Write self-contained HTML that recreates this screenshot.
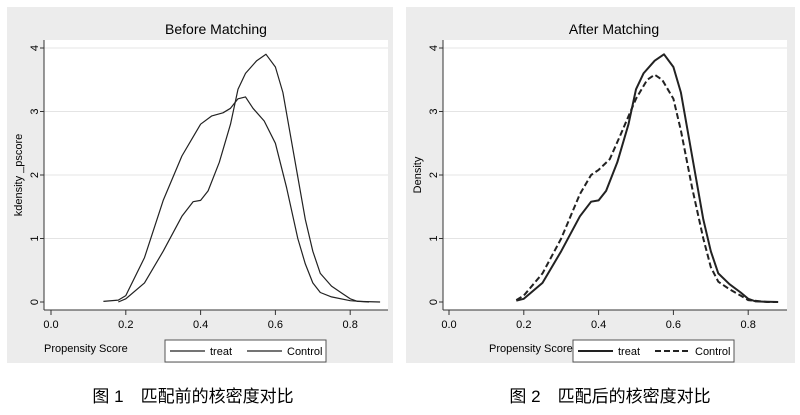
<!DOCTYPE html>
<html><head><meta charset="utf-8"><style>
body{margin:0;background:#fff;width:800px;height:410px;overflow:hidden}
svg text{font-family:"Liberation Sans","Noto Sans CJK SC",sans-serif}
</style></head><body>
<svg id="s" width="800" height="410" xmlns="http://www.w3.org/2000/svg">
<rect x="7" y="7" width="386" height="356" fill="#ececec"/>
<rect x="406" y="7" width="389" height="356" fill="#ececec"/>
<g id="L"></g>
<g id="R"></g>
<text x="193" y="402" text-anchor="middle" font-size="17">图 1　匹配前的核密度对比</text>
<text x="610" y="402" text-anchor="middle" font-size="17">图 2　匹配后的核密度对比</text>
</svg>
<script>
const xTicks=[0.0,0.2,0.4,0.6,0.8];
const xTickLabels=["0.0","0.2","0.4","0.6","0.8"];
const yTicks=[0,1,2,3,4];
const leftTreatX=[0.18,0.2,0.25,0.3,0.35,0.38,0.4,0.42,0.45,0.48,0.5,0.52,0.55,0.575,0.6,0.62,0.65,0.68,0.7,0.72,0.75,0.78,0.8,0.82,0.88];
const leftTreatY=[0,0.05,0.3,0.8,1.35,1.58,1.6,1.75,2.2,2.8,3.35,3.6,3.8,3.9,3.7,3.3,2.3,1.3,0.8,0.45,0.25,0.13,0.05,0.01,0];
const leftCtrlX=[0.14,0.18,0.2,0.25,0.3,0.35,0.38,0.4,0.43,0.46,0.48,0.5,0.52,0.54,0.57,0.6,0.63,0.66,0.68,0.7,0.72,0.75,0.8,0.85];
const leftCtrlY=[0.01,0.03,0.1,0.7,1.6,2.3,2.6,2.8,2.93,2.98,3.05,3.2,3.23,3.05,2.85,2.5,1.8,1.0,0.6,0.3,0.15,0.08,0.02,0];
const rightTreatX=[0.18,0.2,0.25,0.3,0.35,0.38,0.4,0.42,0.45,0.48,0.5,0.52,0.55,0.575,0.6,0.62,0.65,0.68,0.7,0.72,0.75,0.78,0.8,0.82,0.88];
const rightTreatY=[0.02,0.05,0.3,0.8,1.35,1.58,1.6,1.75,2.2,2.8,3.35,3.6,3.8,3.9,3.7,3.3,2.3,1.3,0.8,0.45,0.28,0.15,0.05,0.01,0];
const rightCtrlX=[0.18,0.2,0.25,0.3,0.35,0.38,0.4,0.43,0.46,0.5,0.53,0.55,0.57,0.6,0.62,0.65,0.68,0.7,0.72,0.75,0.78,0.8,0.85,0.88];
const rightCtrlY=[0.03,0.1,0.45,1.0,1.7,2.0,2.08,2.25,2.65,3.2,3.5,3.58,3.5,3.2,2.7,1.8,1.0,0.55,0.32,0.2,0.1,0.03,0,0];
const NS="http://www.w3.org/2000/svg";
function mk(p,t,a,txt){const e=document.createElementNS(NS,t);for(const k in a)e.setAttribute(k,a[k]);if(txt!=null)e.textContent=txt;p.appendChild(e);return e;}
function chart(g,o){
 const sx=v=>o.x0+v*374, sy=v=>302-v*63.5;
 const bg=mk(g,'rect',{x:o.px,y:40,width:o.pw,height:270,fill:'#fff'});
 
 yTicks.forEach(t=>{
  if(t>0){const gl=mk(g,'line',{x1:o.px,x2:o.px+o.pw,y1:sy(t),y2:sy(t),stroke:'#e4e4e4','stroke-width':1});
  }
  const tk=mk(g,'line',{x1:o.px-4,x2:o.px,y1:sy(t),y2:sy(t),stroke:'#333'});
  
  const lb=mk(g,'text',{x:o.px-10,y:sy(t),'font-size':11,'text-anchor':'middle',transform:`rotate(-90 ${o.px-10} ${sy(t)})`,dy:4},String(t));
  
 });
 const ya=mk(g,'line',{x1:o.px,x2:o.px,y1:40,y2:310,stroke:'#333'});
 
 const xa=mk(g,'line',{x1:o.px,x2:o.px+o.pw,y1:310,y2:310,stroke:'#333'});
 
 xTicks.forEach((t,i)=>{
  const tk=mk(g,'line',{x1:sx(t),x2:sx(t),y1:310,y2:315,stroke:'#333'});
  
  const lb=mk(g,'text',{x:sx(t),y:328,'font-size':11,'text-anchor':'middle'},xTickLabels[i]);
  
 });
 const ti=mk(g,'text',{x:o.tx,y:34,'font-size':14,'text-anchor':'middle'},o.title);
 
 const yt=mk(g,'text',{x:o.px-22,y:175,'font-size':11,'text-anchor':'middle',transform:`rotate(-90 ${o.px-22} 175)`},o.ytitle);
 
 const xt=mk(g,'text',{x:o.xtx,y:352,'font-size':11},'Propensity Score');
 
 const pts=(X,Y)=>X.map((v,i)=>sx(v).toFixed(1)+','+sy(Y[i]).toFixed(1)).join(' ');
 const l1=mk(g,'polyline',{points:pts(o.tX,o.tY),fill:'none',stroke:'#222','stroke-width':o.sw,'stroke-linejoin':'round'});
 
 const l2=mk(g,'polyline',{points:pts(o.cX,o.cY),fill:'none',stroke:'#222','stroke-width':o.sw,'stroke-linejoin':'round','stroke-dasharray':o.dash});
 
 const lg=mk(g,'g',{});
 
 mk(lg,'rect',{x:o.lx,y:340,width:161,height:22,fill:'#fff',stroke:'#555'});
 const e1=mk(lg,'line',{x1:o.lx+5,x2:o.lx+40,y1:351,y2:351,stroke:'#222','stroke-width':o.sw});
 
 const t1=mk(lg,'text',{x:o.lx+45,y:355,'font-size':11},'treat');
 
 const e2=mk(lg,'line',{x1:o.lx+82,x2:o.lx+117,y1:351,y2:351,stroke:'#222','stroke-width':o.sw,'stroke-dasharray':o.dash});
 
 const t2=mk(lg,'text',{x:o.lx+122,y:355,'font-size':11},'Control');
 
}
chart(document.getElementById('L'),{x0:51,px:44,pw:344,tx:216,title:'Before Matching',ytitle:'kdensity _pscore',xtx:44,lx:165,sw:1.2,dash:'none',tX:leftTreatX,tY:leftTreatY,cX:leftCtrlX,cY:leftCtrlY});
chart(document.getElementById('R'),{x0:449,px:443,pw:344,tx:614,title:'After Matching',ytitle:'Density',xtx:489,lx:573,sw:2,dash:'6,3',tX:rightTreatX,tY:rightTreatY,cX:rightCtrlX,cY:rightCtrlY});
</script>
</body></html>
